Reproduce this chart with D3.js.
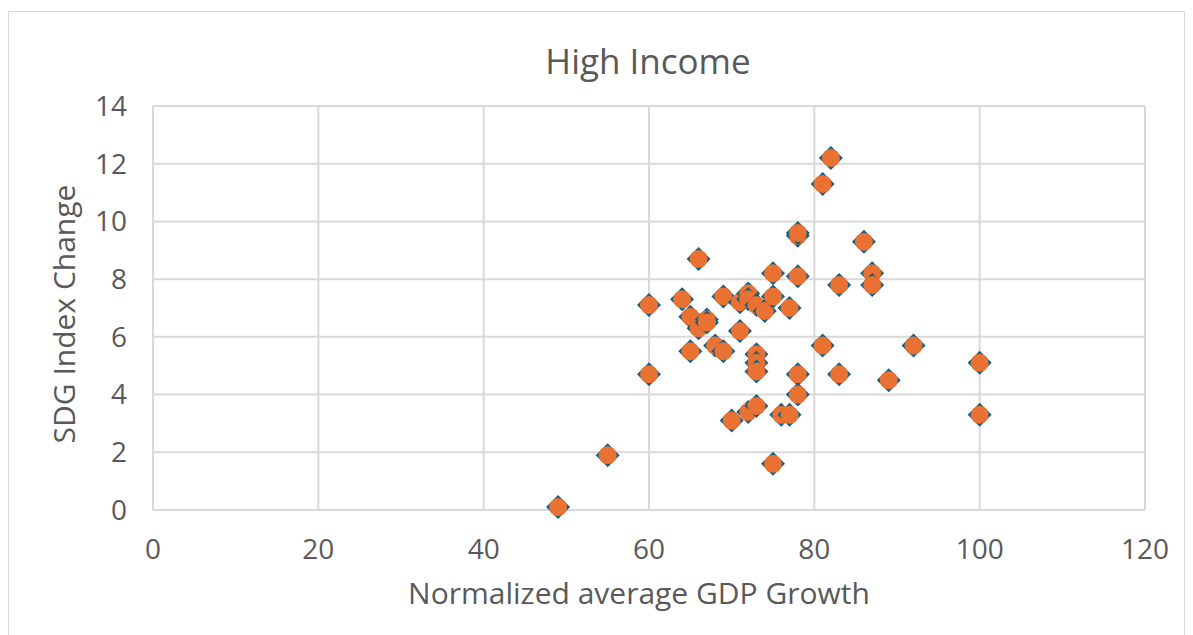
<!DOCTYPE html>
<html>
<head>
<meta charset="utf-8">
<script src="https://cdn.jsdelivr.net/npm/d3@7"></script>
<style>
  body { margin: 0; background: #fff; }
  text { font-family: "Open Sans", sans-serif; fill: #595959; }
</style>
</head>
<body>
<div id="chart"></div>
<script>
// data
let gdp_growth = [49, 55, 60, 60, 64, 65, 65, 66, 66, 67, 67, 68, 69, 69, 71, 71, 72, 72, 73, 73, 73, 73, 74, 75, 75, 75,
  70, 72, 73, 76, 77, 77, 78, 78, 78, 78, 78, 81, 81, 82, 83, 83, 86, 87, 87, 89, 92, 100, 100];
let sdg_change = [0.1, 1.9, 7.1, 4.7, 7.3, 6.7, 5.5, 8.7, 6.3, 6.6, 6.5, 5.7, 5.5, 7.4, 7.2, 6.2, 7.5, 7.3, 5.4, 5.1, 4.8, 7.1, 6.9, 7.4, 8.2, 1.6,
  3.1, 3.4, 3.6, 3.3, 3.3, 7.0, 9.5, 9.6, 8.1, 4.7, 4.0, 11.3, 5.7, 12.2, 7.8, 4.7, 9.3, 8.2, 7.8, 4.5, 5.7, 5.1, 3.3];
let x_ticks = [0, 20, 40, 60, 80, 100, 120];
let y_ticks = [0, 2, 4, 6, 8, 10, 12, 14];

let points = gdp_growth.map((g, i) => ({ x: g, y: sdg_change[i] }));

const W = 1193, H = 635;
const margin = { TOP: 106, BOTTOM: 125, LEFT: 153, RIGHT: 48 };
const w = W - margin.LEFT - margin.RIGHT;
const h = H - margin.TOP - margin.BOTTOM;

const svg = d3.select("#chart").append("svg")
  .attr("width", W).attr("height", H);

// chart frame
svg.append("rect")
  .attr("x", 8.5).attr("y", 11.5)
  .attr("width", 1176).attr("height", 640)
  .attr("fill", "none").attr("stroke", "#d9d9d9").attr("stroke-width", 1);

const g = svg.append("g").attr("transform", `translate(${margin.LEFT}, ${margin.TOP})`);

const x = d3.scaleLinear().domain([0, 120]).range([0, w]);
const y = d3.scaleLinear().domain([0, 14]).range([h, 0]);

// grid
g.selectAll("line.gx").data(x_ticks).enter().append("line")
  .attr("class", "gx")
  .attr("x1", d => x(d)).attr("x2", d => x(d))
  .attr("y1", 0).attr("y2", h)
  .attr("stroke", "#d9d9d9").attr("stroke-width", 2);

g.selectAll("line.gy").data(y_ticks).enter().append("line")
  .attr("class", "gy")
  .attr("x1", 0).attr("x2", w)
  .attr("y1", d => y(d)).attr("y2", d => y(d))
  .attr("stroke", "#d9d9d9").attr("stroke-width", 2);

// tick labels
g.selectAll("text.tx").data(x_ticks).enter().append("text")
  .attr("class", "tx")
  .attr("x", d => x(d)).attr("y", h + 39)
  .attr("dy", "0.35em")
  .attr("text-anchor", "middle")
  .style("font-size", "28px")
  .text(d => d);

g.selectAll("text.ty").data(y_ticks).enter().append("text")
  .attr("class", "ty")
  .attr("x", -26).attr("y", d => y(d))
  .attr("dy", "0.35em")
  .attr("text-anchor", "end")
  .style("font-size", "28px")
  .text(d => d);

// titles
svg.append("text")
  .attr("x", 648).attr("y", 74)
  .attr("text-anchor", "middle")
  .style("font-size", "35px")
  .text("High Income");

svg.append("text")
  .attr("x", 639).attr("y", 604)
  .attr("text-anchor", "middle")
  .style("font-size", "30px")
  .text("Normalized average GDP Growth");

svg.append("text")
  .attr("transform", "translate(75, 314) rotate(-90)")
  .attr("text-anchor", "middle")
  .style("font-size", "30px")
  .text("SDG Index Change");

// markers
const dots = g.selectAll("g.dot").data(points).enter().append("g")
  .attr("class", "dot")
  .attr("transform", d => `translate(${x(d.x)}, ${y(d.y)})`);

dots.append("path")
  .attr("d", "M0,-12L12,0L0,12L-12,0Z")
  .attr("fill", "#156082");

dots.append("circle")
  .attr("r", 9)
  .attr("fill", "#E97132");
</script>
</body>
</html>
